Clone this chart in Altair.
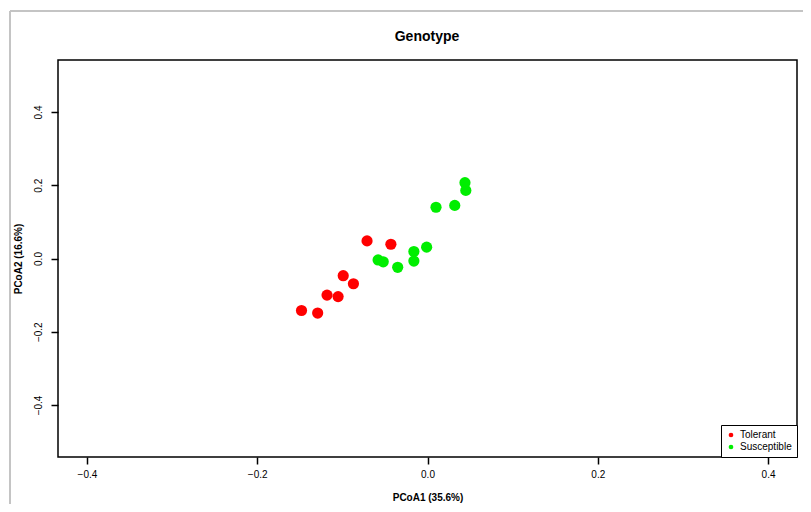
import altair as alt
import pandas as pd

groups = ["Tolerant", "Susceptible"]
tol_x = [-0.148, -0.129, -0.118, -0.105, -0.099, -0.087, -0.071, -0.043]
tol_y = [-0.142, -0.149, -0.100, -0.104, -0.047, -0.069, 0.048, 0.039]
sus_x = [-0.058, -0.052, -0.035, -0.016, -0.016, -0.001, 0.010, 0.032, 0.044, 0.045]
sus_y = [-0.004, -0.009, -0.024, 0.019, -0.007, 0.031, 0.140, 0.145, 0.207, 0.186]
tick_vals = [-0.4, -0.2, 0.0, 0.2, 0.4]
colors = ["#ff0000", "#00ee00"]
title_text = "Genotype"

df = pd.DataFrame({
    "x": tol_x + sus_x,
    "y": tol_y + sus_y,
    "group": [groups[0]] * len(tol_x) + [groups[1]] * len(sus_x),
})

FONT = "Liberation Sans"
W, H = 739, 397

points = alt.Chart(df).mark_circle(size=125, opacity=1).encode(
    x=alt.X("x:Q", scale=alt.Scale(domain=[-0.434, 0.434], nice=False, zero=False),
            axis=alt.Axis(values=tick_vals, format=".1f", title="PCoA1 (35.6%)",
                          domain=False, grid=False, tickSize=7, tickColor="black",
                          tickWidth=1.5, labelPadding=5, labelFontSize=10,
                          labelColor="black", labelFont=FONT, titleFont=FONT,
                          titleFontSize=10, titleFontWeight="bold", titlePadding=13,
                          titleColor="black")),
    y=alt.Y("y:Q", scale=alt.Scale(domain=[-0.542, 0.542], nice=False, zero=False),
            axis=alt.Axis(values=tick_vals, format=".1f", title="PCoA2 (16.6%)",
                          domain=False, grid=False, tickSize=7, tickColor="black",
                          tickWidth=1.5, labelPadding=8, labelFontSize=10,
                          labelAngle=270, labelAlign="center", labelBaseline="bottom",
                          labelColor="black", labelFont=FONT, titleFont=FONT,
                          titleFontSize=10, titleFontWeight="bold", titlePadding=10,
                          titleColor="black")),
    color=alt.Color("group:N", scale=alt.Scale(domain=groups, range=colors),
                    legend=alt.Legend(title=None, orient="bottom-right", offset=0,
                                      symbolSize=22, symbolType="circle",
                                      labelFontSize=10, labelFont=FONT, labelColor="black",
                                      strokeColor="black", fillColor="white",
                                      padding=5, rowPadding=2, symbolOffset=0,
                                      labelOffset=4)),
)

frame_data = alt.Data(values=[{"a": 1}])
left_line = alt.Chart(frame_data).mark_rule(color="#c4c4c4", strokeWidth=2, clip=False).encode(
    x=alt.value(-48), y=alt.value(-49), y2=alt.value(460))
top_line = alt.Chart(frame_data).mark_rule(color="#c4c4c4", strokeWidth=2, clip=False).encode(
    x=alt.value(-48), x2=alt.value(760), y=alt.value(-49))
title = alt.Chart(alt.Data(values=[{"t": title_text}])).mark_text(
    font=FONT, fontSize=14, fontWeight="bold", color="black",
    align="center", baseline="middle", clip=False).encode(
    x=alt.value(369), y=alt.value(-23), text="t:N")

chart = alt.layer(left_line, top_line, title, points).properties(
    width=W, height=H,
    background="white",
    autosize=alt.AutoSizeParams(type="none"),
    padding={"left": 50, "top": 52, "right": 6, "bottom": 47},
).configure_view(stroke="black", strokeWidth=1.5)

chart.save("out.html", embed_options={"renderer": "svg", "actions": False})
